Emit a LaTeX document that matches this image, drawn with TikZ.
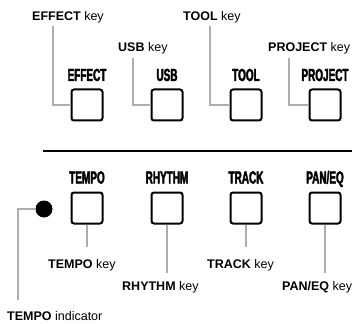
\documentclass[tikz,border=0pt]{standalone}
\usepackage{fontspec}
\setmainfont{Liberation Sans}
\newfontfamily\condb{Liberation Sans}[UprightFont={* Bold},FakeStretch=0.57,FakeBold=2.2]
\begin{document}
\begin{tikzpicture}[x=1pt,y=-1pt,
  keybox/.style={draw=black,line width=2pt,rounded corners=2.5pt,minimum width=31pt,minimum height=31pt,inner sep=0pt},
  keyname/.style={font=\condb\fontsize{17.5}{18}\selectfont,inner sep=0pt,anchor=base},
  callout/.style={font=\fontsize{12.5}{13}\selectfont,inner sep=0pt,anchor=base west},
  leader/.style={draw=black!32,line width=1.3pt},
  rule/.style={draw=black,line width=1.6pt}]
\useasboundingbox (0,0) rectangle (355,323);
% top row keys
\node[keybox] (effbox) at (87,105) {};
\node[keybox] (usbbox) at (167,105) {};
\node[keybox] (toolbox) at (246,105) {};
\node[keybox] (projbox) at (325,105) {};
\node[keyname] (effname) at (87,81) {EFFECT};
\node[keyname] (usbname) at (167,81) {USB};
\node[keyname] (toolname) at (246,81) {TOOL};
\node[keyname] (projname) at (325,81) {PROJECT};
% top callouts
\node[callout] (effkey) at (32,20.5) {\textbf{EFFECT} key};
\node[callout] (usbkey) at (118,52) {\textbf{USB} key};
\node[callout] (toolkey) at (183,20.5) {\textbf{TOOL} key};
\node[callout] (projkey) at (268,52) {\textbf{PROJECT} key};
\coordinate (efftop) at (53,26);
\coordinate (usbtop) at (133,58);
\coordinate (tooltop) at (210,26);
\coordinate (projtop) at (289,58);
\draw[leader] (efftop) |- (effbox.west);
\draw[leader] (usbtop) |- (usbbox.west);
\draw[leader] (tooltop) |- (toolbox.west);
\draw[leader] (projtop) |- (projbox.west);
% separator
\coordinate (ruleL) at (43,151);
\coordinate (ruleR) at (352,151);
\draw[rule] (ruleL) -- (ruleR);
% bottom row keys
\node[keybox] (tempobox) at (87,208) {};
\node[keybox] (rhybox) at (167,208) {};
\node[keybox] (trackbox) at (246,208) {};
\node[keybox] (panbox) at (325,208) {};
\node[keyname] (temponame) at (87,183.5) {TEMPO};
\node[keyname] (rhyname) at (167,183.5) {RHYTHM};
\node[keyname] (trackname) at (246,183.5) {TRACK};
\node[keyname] (panname) at (325,183.5) {PAN/EQ};
% indicator
\node[circle,fill=black,minimum size=17pt,inner sep=0pt] (tempoled) at (44,209) {};
% bottom callouts
\node[callout] (tempokey) at (48,268) {\textbf{TEMPO} key};
\node[callout] (rhykey) at (122,290) {\textbf{RHYTHM} key};
\node[callout] (trackkey) at (207,268) {\textbf{TRACK} key};
\node[callout] (pankey) at (282,290) {\textbf{PAN/EQ} key};
\node[callout] (tempoind) at (7,320) {\textbf{TEMPO} indicator};
\draw[leader] (tempobox.south) -- (tempobox.south |- 0,247);
\draw[leader] (rhybox.south) -- (rhybox.south |- 0,273);
\draw[leader] (trackbox.south) -- (trackbox.south |- 0,247);
\draw[leader] (panbox.south) -- (panbox.south |- 0,273);
\coordinate (indbot) at (18,300);
\draw[leader] (tempoled.west) -| (indbot);
\end{tikzpicture}
\end{document}
